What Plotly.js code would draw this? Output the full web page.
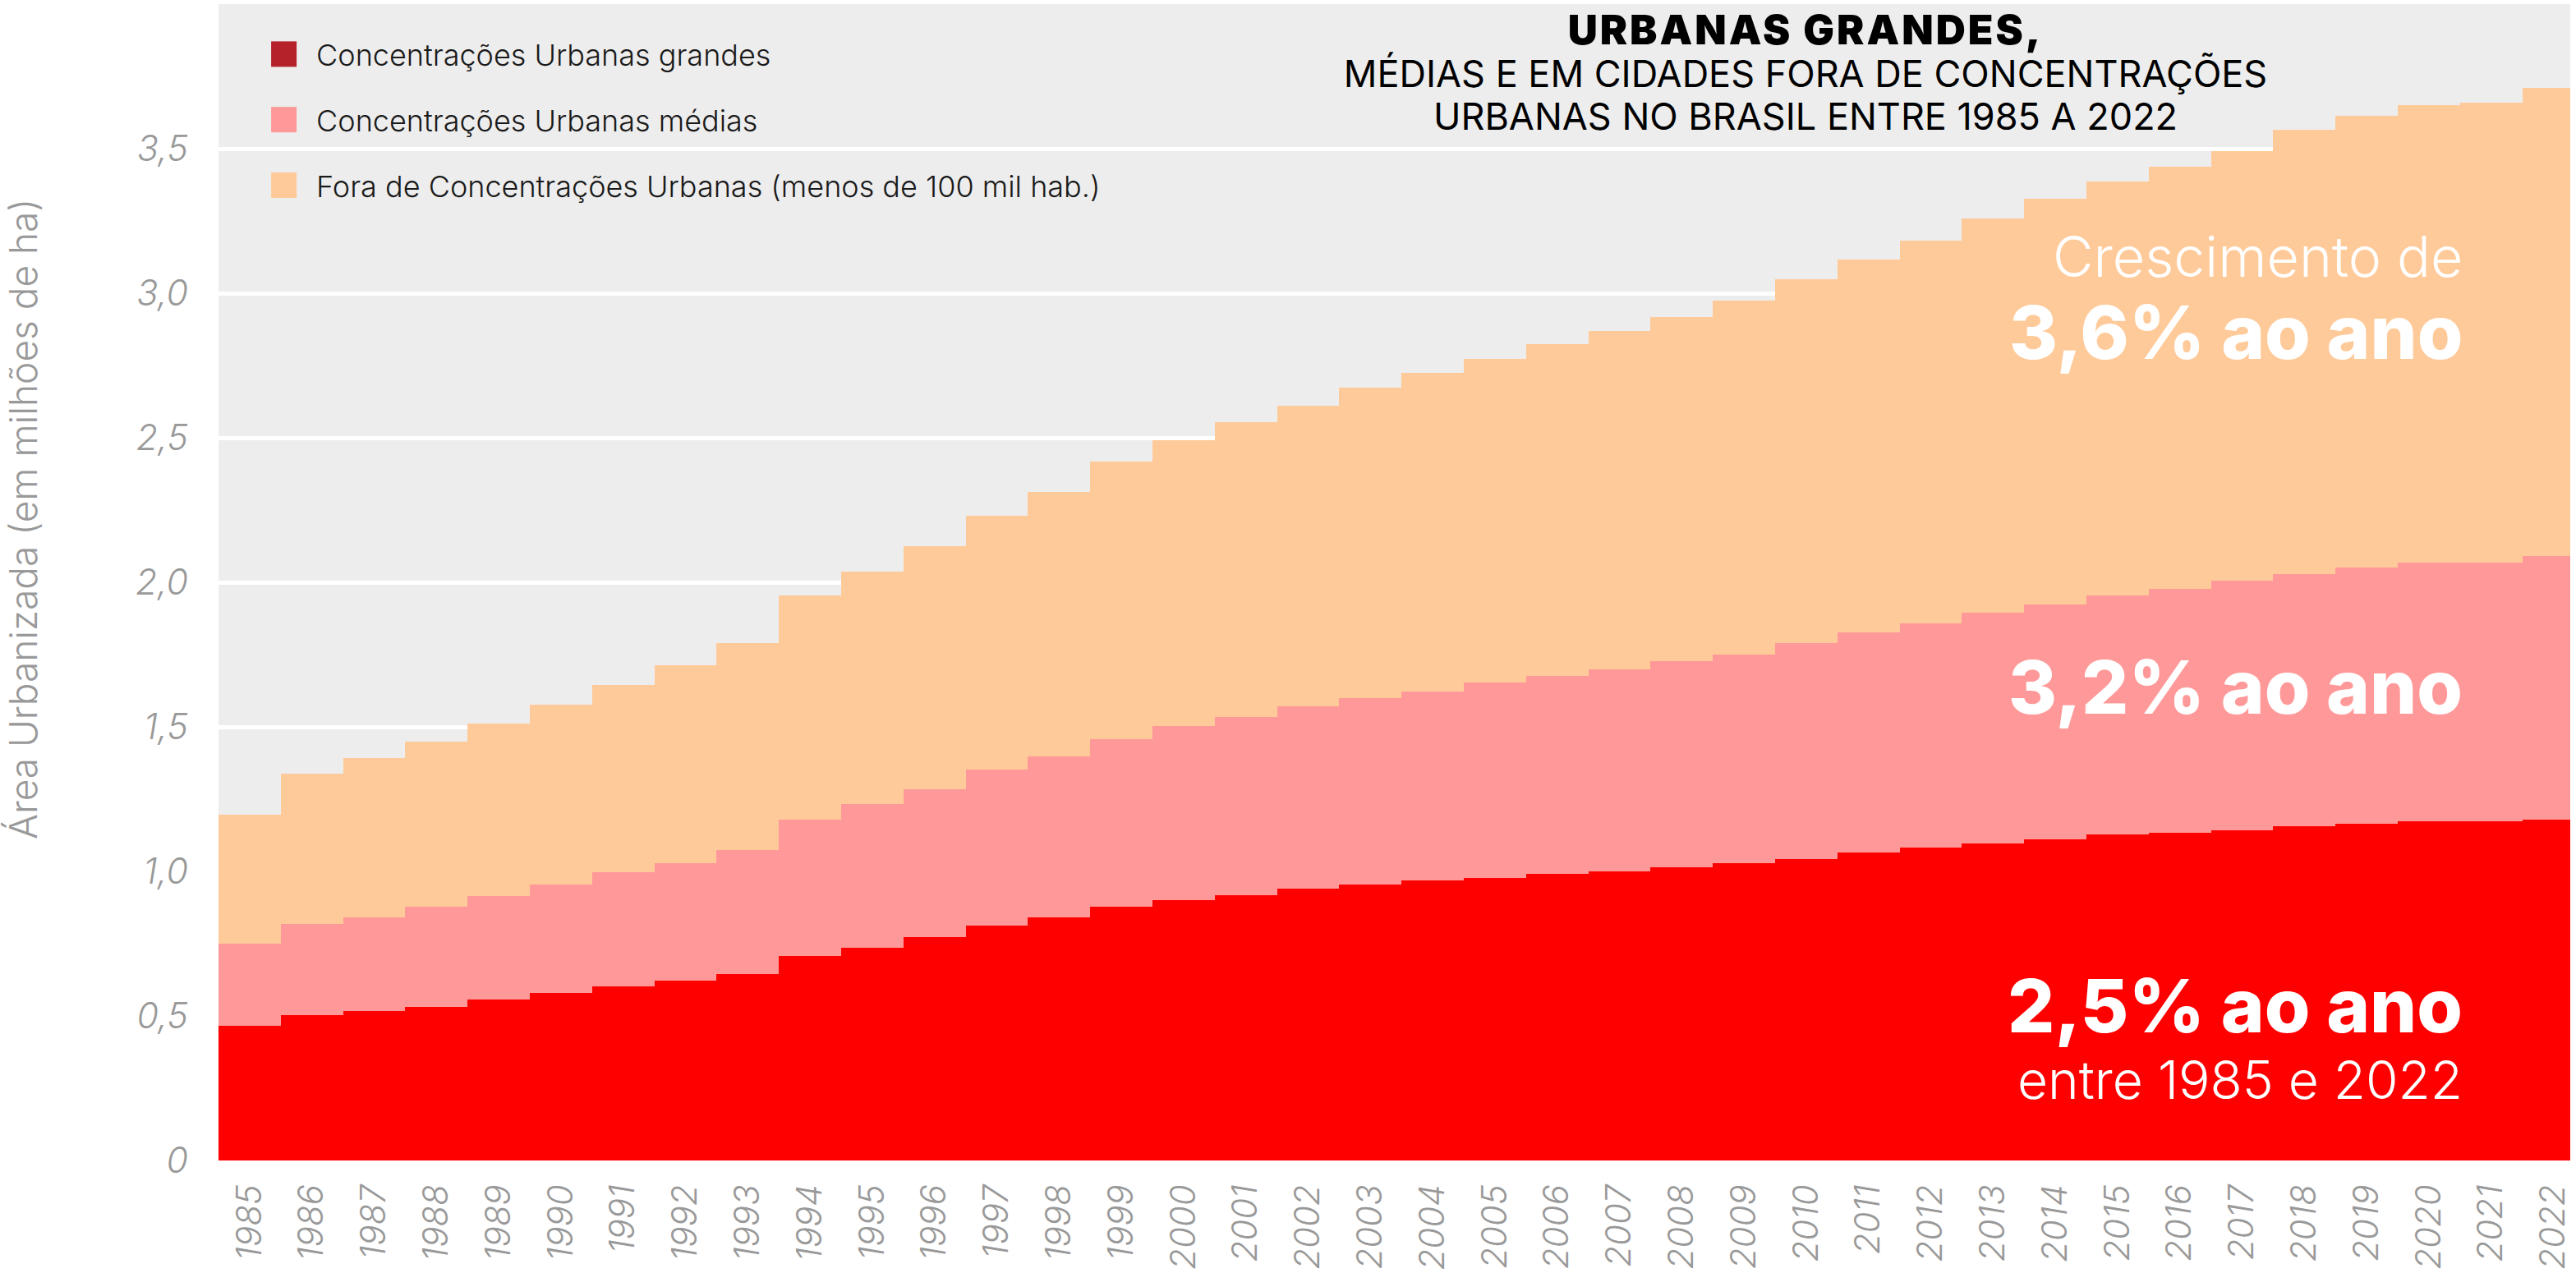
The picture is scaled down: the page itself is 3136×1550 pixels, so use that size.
<!DOCTYPE html>
<html><head><meta charset="utf-8">
<script src="https://cdn.plot.ly/plotly-3.0.1.min.js"></script>
<style>html,body{margin:0;padding:0;background:#fff}</style>
</head><body><div id="chart" style="width:3136px;height:1550px"></div>
<script>
const years = ['1985','1986','1987','1988','1989','1990','1991','1992','1993','1994','1995','1996','1997','1998','1999','2000','2001','2002','2003','2004','2005','2006','2007','2008','2009','2010','2011','2012','2013','2014','2015','2016','2017','2018','2019','2020','2021','2022'];
// millions of ha, per category (stacked)
const grandes = [0.465,0.503,0.518,0.532,0.556,0.579,0.601,0.623,0.646,0.707,0.737,0.774,0.812,0.842,0.879,0.901,0.917,0.939,0.955,0.970,0.976,0.991,0.999,1.014,1.029,1.043,1.066,1.081,1.097,1.112,1.127,1.134,1.142,1.157,1.165,1.172,1.172,1.180];
const medias = [0.285,0.315,0.322,0.346,0.360,0.375,0.397,0.406,0.428,0.473,0.495,0.511,0.541,0.555,0.578,0.602,0.616,0.632,0.645,0.653,0.677,0.684,0.699,0.714,0.722,0.746,0.761,0.776,0.797,0.812,0.828,0.842,0.865,0.872,0.887,0.896,0.896,0.910];
const fora = [0.447,0.519,0.551,0.572,0.595,0.624,0.648,0.684,0.715,0.775,0.804,0.841,0.877,0.915,0.962,0.989,1.020,1.041,1.074,1.102,1.119,1.148,1.170,1.191,1.223,1.259,1.289,1.326,1.364,1.402,1.430,1.462,1.484,1.536,1.562,1.583,1.591,1.621];
const seriesNames = ['Concentrações Urbanas grandes','Concentrações Urbanas médias','Fora de Concentrações Urbanas (menos de 100 mil hab.)'];
const areaColors = ['#FF0000','#FF9999','#FFCA99'];
const legendColors = ['#B5222A','#FF9999','#FFCA99'];
const yTickVals = [0,0.5,1,1.5,2,2.5,3,3.5];
const yTickText = ['0','0,5','1,0','1,5','2,0','2,5','3,0','3,5'];

const FONT = 'Inter, "Noto Sans", sans-serif';
const seriesValues = [grandes, medias, fora];

const traces = seriesValues.map((vals, i) => ({
  type: 'bar', x: years, y: vals, name: seriesNames[i],
  marker: {color: areaColors[i], line: {width: 0}},
  showlegend: false, hoverinfo: 'x+y+name'
}));
seriesNames.forEach((n, i) => traces.push({
  type: 'scatter', mode: 'markers', x: [null], y: [null], name: n,
  marker: {symbol: 'square', size: 16, color: legendColors[i]},
  legendgroup: 'g' + i, legendrank: i + 1, showlegend: true, hoverinfo: 'skip'
}));

const ann = (text, y, size, weight) => ({
  xref: 'paper', yref: 'paper', x: 0.9549, y: y, xanchor: 'right', yanchor: 'middle',
  text: text, showarrow: false,
  font: {family: FONT, size: size, color: '#FFFFFF', weight: weight}
});

const layout = {
  width: 3136, height: 1550,
  margin: {l: 266, r: 7, t: 5, b: 137, pad: 0},
  paper_bgcolor: '#FFFFFF', plot_bgcolor: '#EDEDED',
  barmode: 'stack', bargap: 0,
  font: {family: FONT},
  title: {
    text: '<span style="font-weight:900;font-size:50px;letter-spacing:3px">URBANAS GRANDES,</span><br><span style="font-size:45px">MÉDIAS E EM CIDADES FORA DE CONCENTRAÇÕES</span><br><span style="font-size:45px">URBANAS NO BRASIL ENTRE 1985 A 2022</span>',
    x: 0.7009, xref: 'container', xanchor: 'center',
    y: 0.965, yref: 'container', yanchor: 'top',
    font: {family: FONT, size: 40, color: '#000000', weight: 400}
  },
  xaxis: {
    type: 'category', range: [-0.5, 37.27], tickangle: -90,
    tickfont: {family: FONT, size: 42, color: '#999999', style: 'italic', weight: 300},
    showgrid: false, zeroline: false, ticks: '', ticklabelstandoff: 20, showline: false
  },
  yaxis: {
    range: [0, 4], tickvals: yTickVals, ticktext: yTickText,
    tickfont: {family: FONT, size: 43, color: '#999999', style: 'italic', weight: 300},
    gridcolor: '#FFFFFF', gridwidth: 5, zeroline: false, ticks: '', ticklabelstandoff: 36,
    showline: false
  },
  legend: {
    x: 0.014, y: 0.978, xanchor: 'left', yanchor: 'top',
    bgcolor: 'rgba(0,0,0,0)', borderwidth: 0,
    font: {family: FONT, size: 36, color: '#1A1A1A', weight: 300},
    tracegroupgap: 30, itemwidth: 69
  },
  annotations: [
    {xref: 'paper', yref: 'paper', x: -0.0831, y: 0.5547, xanchor: 'center', yanchor: 'middle',
     textangle: -90, showarrow: false, text: 'Área Urbanizada (em milhões de ha)',
     font: {family: FONT, size: 46, color: '#999999', weight: 300}},
    ann('Crescimento de', 0.782, 68, 300),
    ann('3,6% ao ano', 0.7166, 90, 800),
    ann('3,2% ao ano', 0.4098, 90, 800),
    ann('2,5% ao ano', 0.1342, 90, 800),
    ann('entre 1985 e 2022', 0.0703, 64, 300)
  ]
};

Plotly.newPlot('chart', traces, layout, {displayModeBar: false, staticPlot: true}).then(() => {
  document.querySelectorAll('#chart .legendpoints path').forEach(p => {
    p.setAttribute('d', 'M15.5,15.5H-15.5V-15.5H15.5Z');
  });
});
</script></body></html>
